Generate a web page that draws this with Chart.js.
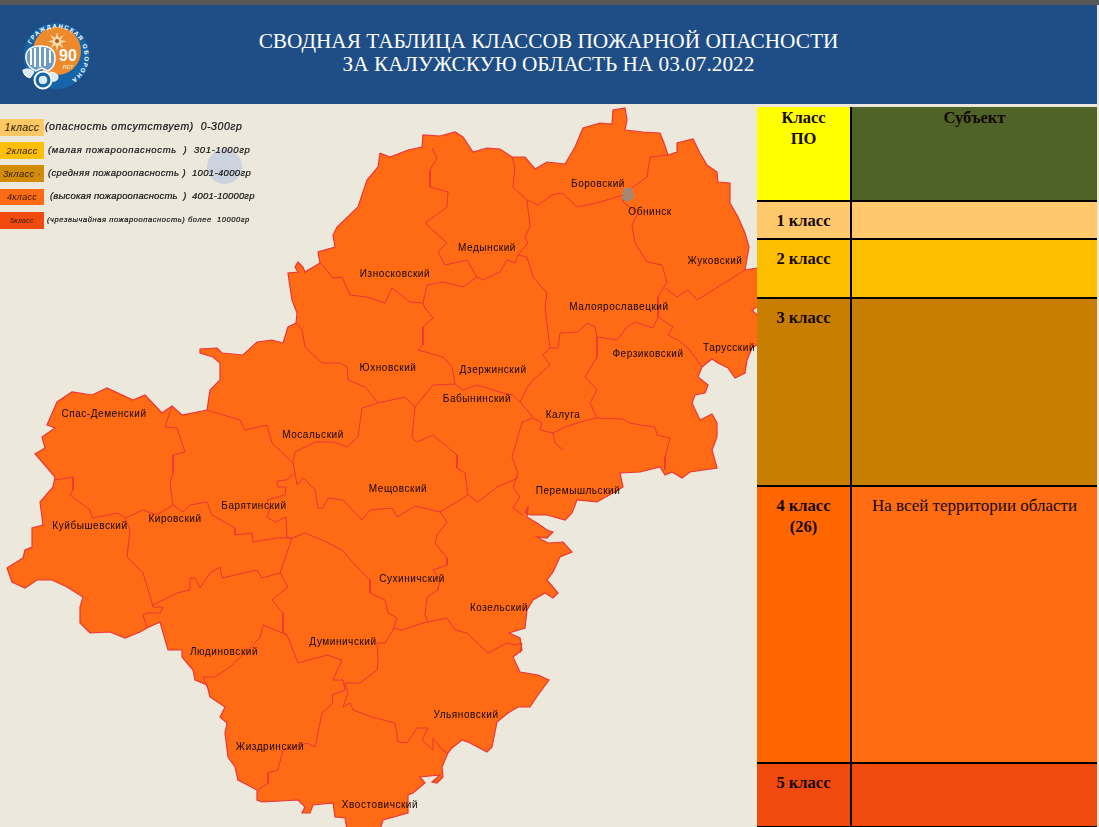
<!DOCTYPE html>
<html lang="ru"><head><meta charset="utf-8">
<script src="https://cdn.jsdelivr.net/npm/chart.js@4/dist/chart.umd.min.js"></script>
<style>
html,body{margin:0;padding:0;background:#ECE9DC;overflow:hidden}
#wrap{position:relative;width:1099px;height:827px;overflow:hidden}
canvas{position:absolute;left:0;top:0}
#topbar{position:absolute;left:0;top:0;width:1099px;height:5px;background:#595959}
#head{position:absolute;left:0;top:5px;width:1097px;height:99px;background:#1F4E86;color:#fff;font:21.3px/23.5px "Liberation Serif",serif;text-align:center}
#head div{position:absolute;left:0;width:1097px}
#logo{position:absolute;left:20px;top:13px}
.sw{position:absolute;left:0;width:44px;font:italic 10px "Liberation Sans",sans-serif;color:#2a1a00;text-align:center;letter-spacing:.3px}
.lg{position:absolute;font:italic 10px "Liberation Sans",sans-serif;color:#111;white-space:pre;-webkit-text-stroke:.2px #111}
#dot{position:absolute;left:207px;top:149px;width:35px;height:35px;border-radius:50%;background:#CDD2DF}
.c{position:absolute;box-sizing:border-box;font:bold 16.5px/21px "Liberation Serif",serif;color:#150800;text-align:center;white-space:pre-line;padding-top:8px}
.hd{padding-top:0}
.reg{font:17px/21px "Liberation Serif",serif}
#tbl{position:absolute;left:757px;top:107px;width:340px;height:720px;background:#000}
</style></head><body>
<div id="wrap">
<canvas id="map" width="1099" height="827"></canvas>
<div id="topbar"></div>
<div id="head">
  <svg id="logo" width="74" height="74" viewBox="0 0 74 74">
    <circle cx="36.5" cy="38" r="33" fill="#1565A8"/>
    <circle cx="37" cy="33" r="24" fill="#EF8A2C"/>
    <path d="M37 14l1.6 6 5-3-3 5 6 1.500-6 1.500 3 5-5-3-1.600 6-1.600-6-5 3 3-5-6-1.500 6-1.500-3-5 5 3z" fill="#F6DDB0"/>
    <circle cx="37" cy="23" r="2" fill="#B4541A"/>
    <path id="arc" d="M11.100 26.200A28 28 0 1 1 46.100 64.300" fill="none"/>
    <text font-family="Liberation Sans" font-size="6" font-weight="bold" fill="#fff" letter-spacing="1.35"><textPath href="#arc">ГРАЖДАНСКАЯ ОБОРОНА</textPath></text>
    <text x="48" y="43" text-anchor="middle" font-family="Liberation Sans" font-size="16" font-weight="bold" fill="#fff">90</text>
    <text x="48" y="51" text-anchor="middle" font-family="Liberation Sans" font-size="5.500" font-weight="bold" fill="#F6DDB0">ЛЕТ</text>
    <g stroke="#fff" fill="none">
      <path d="M6 41c-1-8 4-13 14-13s15 4 15 12c0 7-3 11-7 13l-6-3-6 3c-5-2-9-6-10-12z" fill="#6F9CC4" stroke-width="1.500"/>
      <path d="M11 31v16M15 30v19M20 29v20M25 30v18M30 32v13" stroke-width="2"/>
      <path d="M3 52c4-2 8-1 11 2l-4 6c-4-1-7-4-7-8z" fill="#DCEBF6"/>
      <circle cx="23" cy="62" r="8.500" fill="#1565A8" stroke-width="2"/>
      <circle cx="23" cy="62" r="4" fill="#DCEBF6" stroke-width=".5"/>
      <path d="M30 54c4 0 8 2 8 5s-3 5-6 4z" fill="#DCEBF6"/>
    </g>
  </svg>
  <div id="t1" style="top:25px"></div>
  <div id="t2" style="top:48px"></div>
</div>
<div id="dot"></div>
<div id="legend"></div>
<div id="tbl"></div>
</div>
<script>
// ---------- text ----------
const titleLines = ["СВОДНАЯ ТАБЛИЦА КЛАССОВ ПОЖАРНОЙ ОПАСНОСТИ", "ЗА КАЛУЖСКУЮ ОБЛАСТЬ НА 03.07.2022"];
const legendClasses = ["1класс", "2класс", "3класс ·", "4класс", "5класс"];
const legendNotes = ["(опасность отсутствует)  0-300гр", "(малая пожароопасность  )  301-1000гр", "(средняя пожароопасность )  1001-4000гр", "(высокая пожароопасность  )  4001-10000гр", "(чрезвычайная пожароопасность) более  10000гр"];
const classColors = ["#FFC864", "#FDBF0A", "#D28B06", "#FF6A14", "#F14A0E"];
const tableHead = ["Класс\nПО", "Субъект"];
const tableClasses = ["1 класс", "2 класс", "3 класс", "4 класс\n(26)", "5 класс"];
const tableSubjects = ["", "", "", "На всей территории области", ""];
const tableLeftColors = ["#FFC86A", "#FDBF00", "#C87E00", "#FF6600", "#F14A0E"];
const tableRightColors = ["#FFC86A", "#FDBF00", "#C87E00", "#FF6C11", "#F14A0E"];

// ---------- map (map units) ----------
const regionNames = ["Боровский","Обнинск","Медынский","Износковский","Жуковский","Малоярославецкий","Тарусский","Ферзиковский","Юхновский","Дзержинский","Бабынинский","Калуга","Спас-Деменский","Мосальский","Мещовский","Перемышльский","Барятинский","Кировский","Куйбышевский","Сухиничский","Козельский","Думиничский","Людиновский","Ульяновский","Жиздринский","Хвостовичский"];
const regionLabelX = [598,650,487,395,715,619,729,648,388,493,477,563,104,313,398,578,254,175,90,412,499,343,224,466,270,380];
const regionLabelY = [184,212,248,274,261,307,348,354,368,370,399,415,414,435,489,491,506,519,526,579,608,642,652,715,747,805];

const oblastOutline = [[380,153],[390,157],[408,150],[422,147],[423,135],[440,136],[455,132],[463,137],[473,152],[487,148],[500,149],[512,157],[525,157],[535,169],[547,162],[565,164],[575,147],[583,128],[600,123],[612,124],[613,110],[625,108],[627,120],[625,130],[643,132],[660,133],[664,143],[668,155],[677,152],[677,143],[693,139],[700,153],[707,165],[717,172],[718,182],[730,183],[730,203],[738,217],[745,233],[749,247],[745,270],[757,268],[760,268],[760,307],[757,307],[752,310],[757,315],[760,315],[760,343],[752,348],[747,360],[745,373],[735,378],[728,368],[718,363],[712,359],[702,367],[698,377],[708,385],[705,393],[695,395],[692,403],[700,420],[712,414],[717,423],[717,437],[712,450],[717,468],[690,472],[682,478],[672,472],[665,475],[660,467],[640,472],[620,473],[623,487],[613,493],[597,502],[577,500],[572,513],[565,520],[547,515],[530,515],[525,512],[528,507],[527,517],[537,523],[547,530],[553,532],[547,538],[537,537],[548,543],[563,542],[572,552],[560,557],[553,572],[547,580],[558,593],[553,598],[545,593],[533,600],[527,610],[525,628],[509,633],[520,638],[522,650],[513,657],[520,672],[538,675],[549,680],[538,695],[530,707],[518,707],[508,713],[497,722],[492,747],[487,752],[470,743],[462,740],[452,748],[448,753],[442,767],[443,777],[437,783],[432,782],[440,775],[420,777],[425,783],[413,793],[408,795],[408,813],[383,820],[380,830],[347,830],[345,818],[335,817],[333,803],[313,805],[310,813],[302,813],[305,807],[298,800],[262,802],[257,800],[257,790],[238,780],[235,767],[228,757],[225,733],[227,723],[220,717],[225,707],[210,697],[207,685],[195,680],[193,670],[182,657],[182,650],[168,650],[160,622],[147,628],[140,632],[125,638],[110,632],[90,633],[80,623],[80,607],[83,597],[67,587],[52,580],[37,580],[25,588],[12,582],[7,568],[23,558],[25,550],[32,547],[32,528],[43,525],[40,502],[53,487],[55,477],[43,463],[35,454],[45,448],[42,437],[55,428],[47,425],[57,402],[72,392],[92,395],[107,388],[133,400],[145,395],[162,413],[172,406],[182,415],[207,410],[210,390],[220,380],[220,363],[213,357],[200,353],[200,349],[217,348],[222,353],[243,355],[257,342],[272,340],[283,343],[288,327],[296,323],[297,313],[292,300],[290,287],[288,273],[298,272],[295,267],[298,262],[303,267],[305,272],[320,263],[318,252],[335,247],[333,235],[337,227],[358,207],[367,180],[378,167]];

const districtBorders = [
 [[432,148],[437,158],[430,170],[430,187],[448,192],[447,207],[425,223],[447,243],[438,252],[445,265],[467,260],[477,277],[483,280],[500,272],[507,260],[515,263],[518,255]],
 [[512,157],[515,167],[513,187],[527,200],[530,227],[525,237],[528,243],[518,255],[527,257],[533,277],[547,293],[545,307],[550,348],[543,355],[550,365],[533,380],[527,388],[520,402],[533,417]],
 [[527,200],[538,205],[552,195],[562,193],[577,207],[597,203],[623,195]],
 [[668,155],[650,157],[647,177],[625,193],[623,202],[638,213],[632,225],[635,243],[647,262],[662,265],[667,282],[658,297],[658,317]],
 [[665,288],[677,297],[688,290],[697,300],[713,290],[745,270]],
 [[550,348],[558,348],[560,333],[578,332],[587,323],[595,327],[597,337],[617,340],[627,327],[635,322],[653,328],[658,317],[673,327],[668,335],[678,340],[688,348],[702,367]],
 [[597,337],[597,357],[585,377],[597,390],[590,403],[597,418]],
 [[320,263],[325,268],[333,278],[342,277],[350,295],[367,297],[385,303],[392,288],[410,302],[423,303],[427,285],[443,282],[463,287],[477,277]],
 [[423,303],[425,308],[433,318],[423,327],[423,345],[418,350],[443,357],[452,367],[455,384],[463,390],[477,385],[503,393],[513,395],[520,402]],
 [[455,384],[433,385],[415,407],[412,438],[417,442],[433,435],[457,455],[457,468],[465,473],[468,495],[478,502],[497,487],[518,478]],
 [[296,323],[302,330],[305,347],[322,363],[340,363],[347,367],[348,380],[365,387],[378,403],[405,397],[415,407]],
 [[378,403],[362,408],[358,437],[347,447],[333,442],[315,442],[295,452],[293,463]],
 [[207,410],[240,420],[245,430],[267,425],[272,443],[293,463],[295,473],[286,480],[277,481],[278,487],[286,487],[285,495],[267,500],[270,510],[267,517],[275,522],[286,517],[287,537],[292,538]],
 [[297,485],[303,478],[315,490],[318,508],[323,508],[328,498],[343,500],[362,520],[370,510],[392,508],[397,517],[415,506],[440,512],[468,495]],
 [[295,473],[297,485]],
 [[440,512],[447,522],[437,535],[435,543],[447,558],[447,565],[433,570],[440,580],[438,590],[427,597],[425,615],[428,622]],
 [[517,440],[522,422],[533,418],[542,423],[540,430],[553,433],[565,427],[587,420],[597,418],[623,419],[630,423],[640,425],[655,427],[657,435],[670,438],[665,457],[665,470]],
 [[553,433],[555,443],[563,450]],
 [[517,440],[512,457],[518,473],[513,487],[520,497],[513,508],[523,515]],
 [[292,538],[305,533],[322,540],[342,550],[357,567],[370,580],[370,593],[385,600],[388,613],[397,618],[393,630],[385,643],[377,643],[378,662],[377,670],[360,683],[345,683]],
 [[393,628],[402,630],[423,623],[447,618],[455,630],[467,633],[488,653],[507,643],[515,645],[522,643],[520,653]],
 [[172,406],[165,427],[177,428],[185,452],[173,455],[173,473],[170,483],[173,505]],
 [[55,480],[73,477],[73,490],[70,495],[90,510],[92,518],[118,513],[125,518],[143,510],[157,515],[173,505],[183,512],[190,505],[207,502],[212,515],[235,528],[235,535],[252,533],[253,542],[277,538],[292,538]],
 [[125,518],[130,530],[127,557],[143,573],[152,603],[153,607],[163,607],[160,613],[147,613],[143,615],[147,628]],
 [[153,605],[177,593],[190,590],[190,578],[195,578],[200,588],[210,573],[220,567],[222,578],[257,570],[262,578],[280,573],[292,538]],
 [[280,573],[288,587],[272,600],[283,613],[283,632]],
 [[263,625],[260,638],[230,667],[215,677],[203,677],[207,687]],
 [[263,625],[287,635],[298,663],[327,655],[342,660],[333,680],[343,680],[345,690],[332,695],[333,703],[322,713],[315,747],[307,743],[283,750],[278,770],[268,773],[268,783],[258,790]],
 [[345,683],[348,693],[343,707],[350,703],[353,710],[372,717],[395,723],[398,742],[407,743],[417,728],[428,728],[422,740],[433,750],[433,738],[442,750],[448,753]],
 [[283,632],[287,635]]
];
const obninskMark = [[624,189],[631,189],[633,197],[628,201],[623,198]];
const regionFill = "#FF6A14";
const borderColor = "#EC3438";

// ---------- page furniture built from the arrays ----------
document.getElementById('t1').textContent = titleLines[0];
document.getElementById('t2').textContent = titleLines[1];
const legendTops = [119, 142, 165, 189, 212], legendBoxH = [17,17,17,16,17], noteLeft = [45,48,48,50,47];
const noteSpacing = [.55,.65,.35,.15,.58], noteSize=[10.5,9.5,9.5,9.5,7.5], classSize=[10.5,9.5,9.5,9,7];
const legend = document.getElementById('legend');
legendClasses.forEach((c,i)=>{
  const s=document.createElement('div'); s.className='sw'; s.textContent=c;
  s.style.cssText=`top:${legendTops[i]}px;height:${legendBoxH[i]}px;line-height:${legendBoxH[i]}px;background:${classColors[i]};font-size:${classSize[i]}px`;
  legend.appendChild(s);
  const n=document.createElement('div'); n.className='lg'; n.textContent=legendNotes[i];
  n.style.cssText=`left:${noteLeft[i]}px;top:${legendTops[i]}px;line-height:${legendBoxH[i]-2}px;letter-spacing:${noteSpacing[i]}px;font-size:${noteSize[i]}px`;
  legend.appendChild(n);
});
const tbl=document.getElementById('tbl');
const rowTops=[0,95,133,191.5,380,657], rowH=[93.3,36,57,186.5,275,62];
function cell(l,w,t,h,bg,txt,cls){const d=document.createElement('div');d.className='c '+(cls||'');d.style.cssText=`left:${l}px;width:${w}px;top:${t}px;height:${h}px;background:${bg}`;d.textContent=txt;tbl.appendChild(d);}
cell(0,93,0,rowH[0],"#FFFF00",tableHead[0],'hd');
cell(95,245,0,rowH[0],"#4F6228",tableHead[1],'hd');
tableClasses.forEach((c,i)=>{
  cell(0,93,rowTops[i+1],rowH[i+1],tableLeftColors[i],c);
  cell(95,245,rowTops[i+1],rowH[i+1],tableRightColors[i],tableSubjects[i],'reg');
});

// ---------- chart ----------
const toPts = a => a.map(p=>({x:p[0],y:p[1]}));
const datasets = [
  {data:toPts(oblastOutline.concat([oblastOutline[0]])),showLine:true,fill:'shape',backgroundColor:regionFill,borderColor:borderColor,borderWidth:1.2,pointRadius:0,tension:0,order:3},
  {data:toPts(obninskMark.concat([obninskMark[0]])),showLine:true,fill:'shape',backgroundColor:"#A7876C",borderColor:"#8E8E8E",borderWidth:1.5,pointRadius:0,tension:0,order:1},
  ...districtBorders.map(b=>({data:toPts(b),showLine:true,fill:false,borderColor:borderColor,borderWidth:1,pointRadius:0,tension:0,order:2}))
];
const labelPlugin={id:'regionLabels',afterDatasetsDraw(ch){
  const {ctx,scales:{x,y}}=ch; ctx.save();
  ctx.font='10px "Liberation Sans",sans-serif'; ctx.fillStyle='#120800'; ctx.textAlign='center'; ctx.textBaseline='middle';
  ctx.letterSpacing='0.55px';
  regionNames.forEach((n,i)=>ctx.fillText(n,x.getPixelForValue(regionLabelX[i]),y.getPixelForValue(regionLabelY[i])));
  ctx.restore();
}};
new Chart(document.getElementById('map'),{type:'scatter',data:{datasets},plugins:[labelPlugin],options:{
  responsive:false,animation:false,events:[],layout:{padding:0},
  plugins:{legend:{display:false},tooltip:{enabled:false},title:{display:false}},
  scales:{x:{type:'linear',display:false,min:0,max:1099},y:{type:'linear',display:false,min:0,max:827,reverse:true}}
}});
</script>
</body></html>
